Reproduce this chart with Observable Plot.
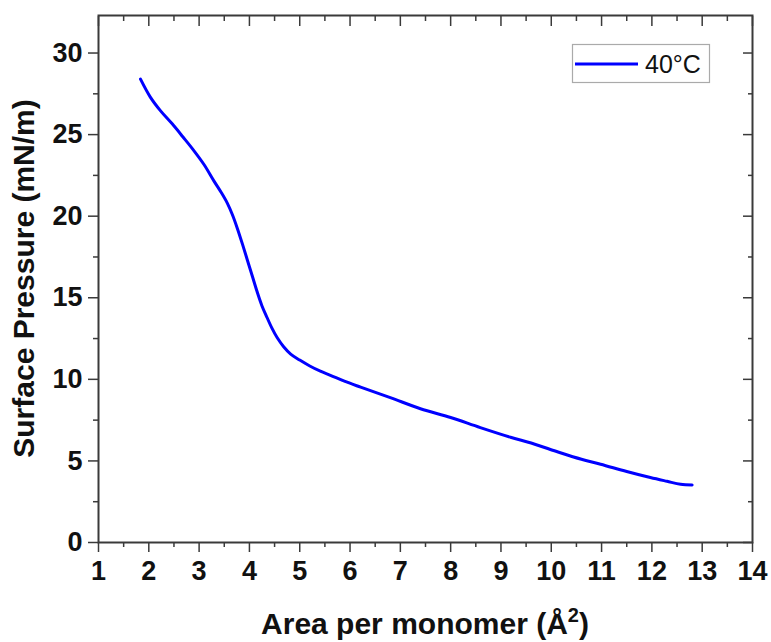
<!DOCTYPE html>
<html>
<head>
<meta charset="utf-8">
<script src="https://cdn.jsdelivr.net/npm/d3@7"></script>
<script src="https://cdn.jsdelivr.net/npm/@observablehq/plot@0.6"></script>
<style>
  html, body { margin: 0; padding: 0; background: #fff; }
  #chart svg { display: block; }
</style>
</head>
<body>
<div id="chart"></div>
<script>
// Data
const areaPerMonomer = [1.835, 2.03, 2.23, 2.465, 2.68, 2.895, 3.1, 3.29, 3.44, 3.56, 3.66, 3.76, 3.86, 3.96, 4.06, 4.155, 4.25, 4.35, 4.45, 4.55, 4.68, 4.82, 5.0, 5.2, 5.41, 5.61, 5.9, 6.21, 6.8, 7.4, 8.0, 8.59, 9.19, 9.6, 10.18, 10.6, 10.98, 11.5, 11.97, 12.3, 12.57, 12.8];
const surfacePressure = [28.4, 27.3, 26.47, 25.66, 24.85, 24.02, 23.15, 22.18, 21.45, 20.8, 20.1, 19.25, 18.3, 17.3, 16.3, 15.35, 14.5, 13.79, 13.12, 12.56, 12.0, 11.55, 11.18, 10.82, 10.5, 10.25, 9.87, 9.52, 8.88, 8.2, 7.66, 7.04, 6.45, 6.1, 5.5, 5.1, 4.8, 4.35, 3.98, 3.75, 3.57, 3.53];
const seriesName = "40°C";
const xMajorTicks = [1, 2, 3, 4, 5, 6, 7, 8, 9, 10, 11, 12, 13, 14];
const xMinorTicks = [1.5, 2.5, 3.5, 4.5, 5.5, 6.5, 7.5, 8.5, 9.5, 10.5, 11.5, 12.5, 13.5];
const yMajorTicks = [0, 5, 10, 15, 20, 25, 30];
const yMinorTicks = [2.5, 7.5, 12.5, 17.5, 22.5, 27.5];
const xLabel = "Area per monomer (Å";
const xLabelSup = "2";
const yLabel = "Surface Pressure (mN/m)";

const data = areaPerMonomer.map((x, i) => ({x, y: surfacePressure[i]}));

const W = 771, H = 642;
const mL = 98, mR = 19, mT = 15, mB = 100;
const axisColor = "#3a3a3a";
const font = "'Liberation Sans', Arial, sans-serif";
const tickFont = 27;

const chart = Plot.plot({
  width: W,
  height: H,
  marginLeft: mL,
  marginRight: mR,
  marginTop: mT,
  marginBottom: mB,
  style: {fontFamily: font, background: "#fff", color: "#111"},
  x: {domain: [1, 14], label: null},
  y: {domain: [0, 32.3], label: null},
  marks: [
    Plot.axisX({anchor: "bottom", ticks: xMajorTicks, tickSize: 10, tickPadding: 8, fontSize: tickFont, fontWeight: "bold", stroke: axisColor, strokeWidth: 1.5, label: null, tickFormat: d => String(d)}),
    Plot.axisX({anchor: "bottom", ticks: xMinorTicks, tickSize: 5, text: null, stroke: axisColor, strokeWidth: 1.5, label: null}),
    Plot.axisX({anchor: "top", ticks: xMajorTicks, tickSize: -10, text: null, stroke: axisColor, strokeWidth: 1.5, label: null}),
    Plot.axisX({anchor: "top", ticks: xMinorTicks, tickSize: -5, text: null, stroke: axisColor, strokeWidth: 1.5, label: null}),
    Plot.axisY({anchor: "left", ticks: yMajorTicks, tickSize: 10, tickPadding: 6, fontSize: tickFont, fontWeight: "bold", stroke: axisColor, strokeWidth: 1.5, label: null, tickFormat: d => String(d)}),
    Plot.axisY({anchor: "left", ticks: yMinorTicks, tickSize: 5, text: null, stroke: axisColor, strokeWidth: 1.5, label: null}),
    Plot.axisY({anchor: "right", ticks: yMajorTicks, tickSize: -10, text: null, stroke: axisColor, strokeWidth: 1.5, label: null}),
    Plot.axisY({anchor: "right", ticks: yMinorTicks, tickSize: -5, text: null, stroke: axisColor, strokeWidth: 1.5, label: null}),
    Plot.frame({stroke: axisColor, strokeWidth: 2}),
    Plot.line(data, {x: "x", y: "y", stroke: "#0000ff", strokeWidth: 3, curve: "catmull-rom"})
  ]
});

const svg = d3.select(chart);

// Axis titles
const xt = svg.append("text")
  .attr("x", (mL + (W - mR)) / 2)
  .attr("y", 634)
  .attr("text-anchor", "middle")
  .attr("font-family", font)
  .attr("font-size", 30)
  .attr("font-weight", "bold")
  .attr("fill", "#111");
xt.append("tspan").text(xLabel);
xt.append("tspan").attr("dy", -12).attr("font-size", 20).text(xLabelSup);
xt.append("tspan").attr("dy", 12).text(")");

svg.append("text")
  .attr("transform", `translate(34,${(mT + (H - mB)) / 2}) rotate(-90)`)
  .attr("text-anchor", "middle")
  .attr("font-family", font)
  .attr("font-size", 30)
  .attr("font-weight", "bold")
  .attr("fill", "#111")
  .text(yLabel);

// Legend
const lg = svg.append("g");
lg.append("rect")
  .attr("x", 572.5).attr("y", 44.5).attr("width", 137).attr("height", 38)
  .attr("fill", "#fff").attr("stroke", "#aaa").attr("stroke-width", 1.2);
lg.append("line")
  .attr("x1", 575).attr("x2", 638).attr("y1", 64).attr("y2", 64)
  .attr("stroke", "#0000ff").attr("stroke-width", 3);
lg.append("text")
  .attr("x", 645).attr("y", 73)
  .attr("text-anchor", "start")
  .attr("font-family", font).attr("font-size", 25)
  .attr("fill", "#111")
  .text(seriesName);

document.getElementById("chart").appendChild(chart);
</script>
</body>
</html>
